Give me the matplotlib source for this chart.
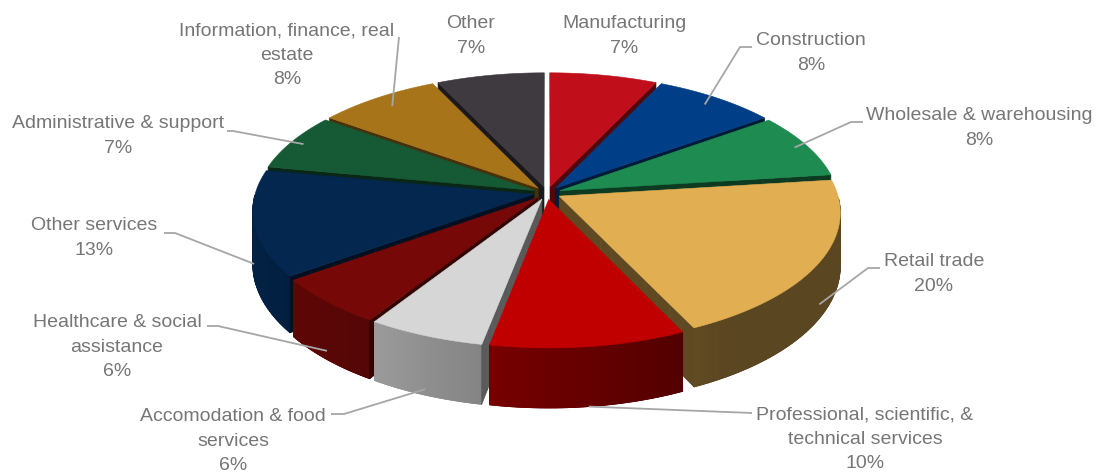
import numpy as np
import matplotlib
matplotlib.use("Agg")
import matplotlib.pyplot as plt
from matplotlib.patches import Polygon
from matplotlib.colors import to_rgb

plt.rcParams['font.family'] = ['Liberation Sans', 'DejaVu Sans']

# Employment share by sector, clockwise from 12 o'clock
sectors = ['Manufacturing', 'Construction', 'Wholesale & warehousing', 'Retail trade',
           'Professional, scientific, &\ntechnical services', 'Accomodation & food\nservices',
           'Healthcare & social\nassistance', 'Other services', 'Administrative & support',
           'Information, finance, real\nestate', 'Other']
shares = [7, 8, 8, 20, 10, 6, 6, 13, 7, 8, 7]
colors = ['#C00F1A', '#003F87', '#1E8C50', '#E2AE52', '#C00000', '#D6D6D6',
          '#760808', '#03274F', '#155A35', '#A8741A', '#3E3A40']

# label block centres (px) and leader layout
label_xy = [(624, 36), (811, 53), (979, 128), (934, 274), (865, 439), (233, 441),
            (117, 347), (94, 238), (118, 136), (287, 55), (471, 36)]
leader_from = [None, [(752, 47), (740, 47)], [(863, 122), (851, 122)], [(880, 268), (868, 268)],
               [(752, 413)], [(331, 414), (344, 414)], [(207, 326), (218, 326)],
               [(164, 233), (175, 233)], [(227, 131), (233, 131)], [(399, 37)], None]
anchor_rh = [None, (0.92, 0), (0.95, 0), (1, 0.75), (1, 1), (1, 0.9), (1, 0.85),
             (1, 0.75), (0.95, 0), (0.9, 0), None]

# projection of the tilted disc
CX, CY = 547, 193
RX, RY = 278, 129
K = 0.12
DEPTH = 52.5
EXPLODE = 0.05


def project(u, v, h=0.0):
    s = 1.0 / (1.0 - K * v)
    return CX + RX * u * s, CY + (RY * v + DEPTH * h) * s


def shade(color, f):
    r, g, b = to_rgb(color)
    return (min(r * f, 1), min(g * f, 1), min(b * f, 1))


def wall_shade(p):
    # side walls are lit from the left
    return float(np.clip(0.56 - 0.3 * np.sin(p), 0.4, 0.9))


def rim(p, ou, ov, r=1.0, h=0.0):
    return project(r * np.sin(p) + ou, -r * np.cos(p) + ov, h)


fig = plt.figure(figsize=(10.99, 4.76), dpi=100)
ax = fig.add_axes([0, 0, 1, 1])
ax.set_xlim(0, 1099)
ax.set_ylim(476, 0)
ax.axis('off')

fracs = np.array(shares, dtype=float) / sum(shares)
bounds = np.concatenate([[0], np.cumsum(fracs)]) * 2 * np.pi

walls = []
tops = []
for i, col in enumerate(colors):
    p1, p2 = bounds[i], bounds[i + 1]
    mid = 0.5 * (p1 + p2)
    ou, ov = EXPLODE * np.sin(mid), -EXPLODE * np.cos(mid)
    phis = np.linspace(p1, p2, max(int(np.degrees(p2 - p1)), 2) + 1)

    # top face
    pts = [project(ou, ov)] + [rim(p, ou, ov) for p in phis]
    tops.append((pts, col))

    # curved outer wall, front half only
    front = [p for p in phis if -np.cos(p) > -1e-9]
    if len(front) > 1:
        outline = [rim(p, ou, ov, 1, 0) for p in front] + [rim(p, ou, ov, 1, 1) for p in front[::-1]]
        strips = []
        for a, b in zip(front[:-1], front[1:]):
            sc = shade(col, wall_shade(0.5 * (a + b)))
            strips.append(([rim(a, ou, ov, 1, 0), rim(b, ou, ov, 1, 0),
                            rim(b, ou, ov, 1, 1), rim(a, ou, ov, 1, 1)], sc))
        mkey = -np.cos(0.5 * (front[0] + front[-1])) + ov
        walls.append((mkey, outline, strips, shade(col, wall_shade(mid))))

    # radial cut faces exposed by the explode gap
    for ang, visible in ((p1, np.sin(p1) < 0), (p2, np.sin(p2) > 0)):
        if not visible:
            continue
        rs = np.linspace(0, 1, 13)
        for ra, rb in zip(rs[:-1], rs[1:]):
            quad = [rim(ang, ou, ov, ra, 0), rim(ang, ou, ov, rb, 0),
                    rim(ang, ou, ov, rb, 1), rim(ang, ou, ov, ra, 1)]
            rm = 0.5 * (ra + rb)
            walls.append((-rm * np.cos(ang) + ov, quad, None, shade(col, 0.42)))

for _, outline, strips, c in sorted(walls, key=lambda w: w[0]):
    ax.add_patch(Polygon(outline, closed=True, facecolor=c, edgecolor=c, lw=0.5))
    if strips:
        for quad, sc in strips:
            ax.add_patch(Polygon(quad, closed=True, facecolor=sc, edgecolor=sc, lw=0.6))
for pts, c in tops:
    ax.add_patch(Polygon(pts, closed=True, facecolor=c, edgecolor=c, lw=0.4))

# labels and leader lines
for i, name in enumerate(sectors):
    tx, ty = label_xy[i]
    ax.text(tx, ty, f'{name}\n{shares[i]}%', ha='center', va='center', fontsize=14,
            color='#767676', linespacing=1.55, multialignment='center')
    if leader_from[i] is None:
        continue
    mid = 0.5 * (bounds[i] + bounds[i + 1])
    r, h = anchor_rh[i]
    ou, ov = EXPLODE * np.sin(mid), -EXPLODE * np.cos(mid)
    end = rim(mid, ou, ov, r, h)
    line = leader_from[i] + [end]
    ax.plot([p[0] for p in line], [p[1] for p in line], color='#A6A6A6', lw=1.3,
            solid_capstyle='butt')

fig.savefig('out.png', dpi=100)
